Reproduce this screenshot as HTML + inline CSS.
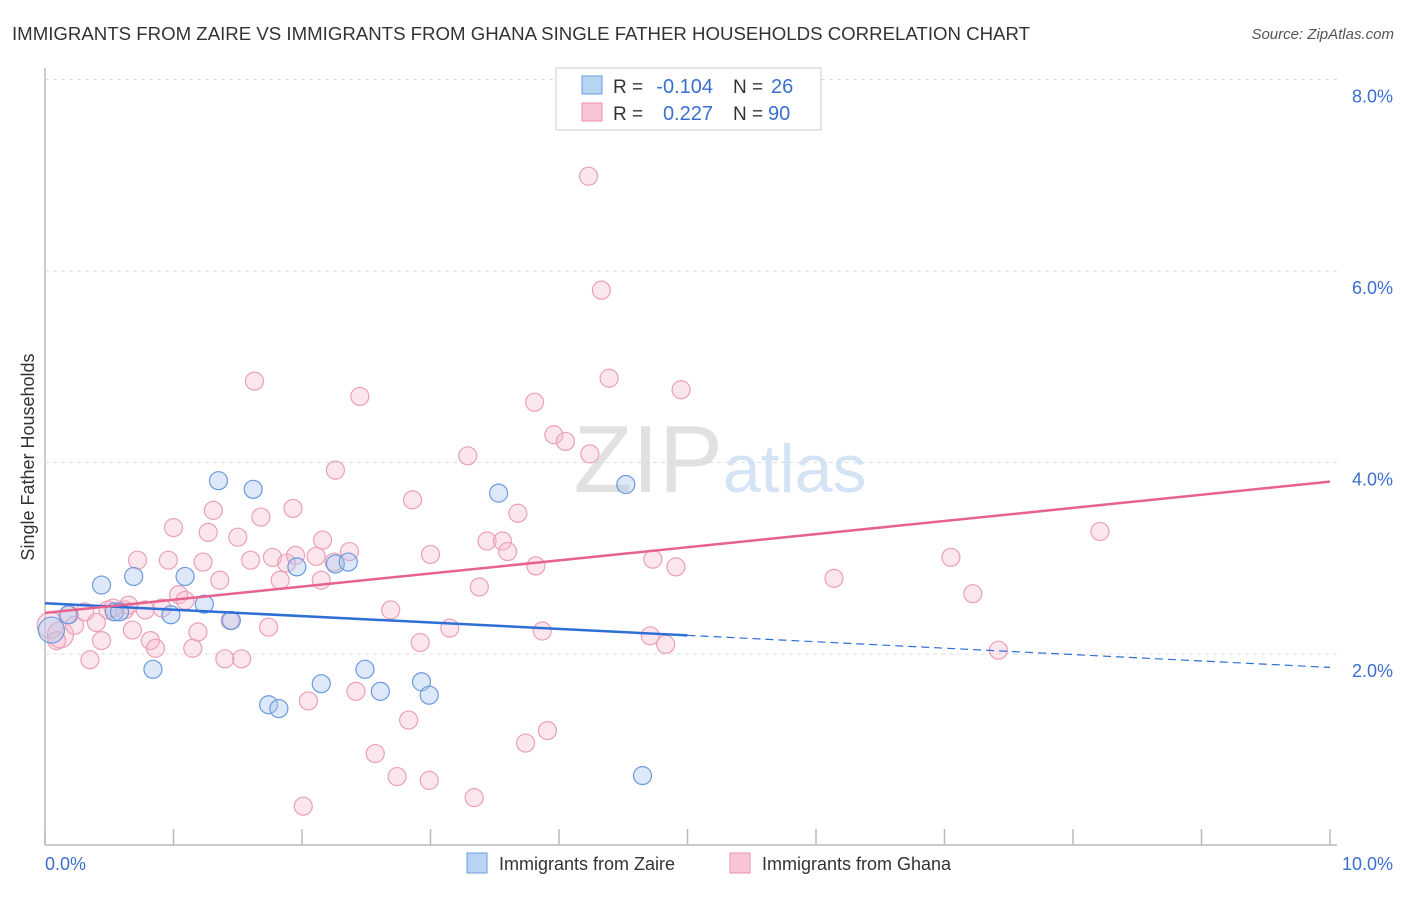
<!DOCTYPE html>
<html><head><meta charset="utf-8"><style>
body{margin:0;background:#fff;font-family:"Liberation Sans",sans-serif;}
svg text{font-family:"Liberation Sans",sans-serif;}
</style></head><body>
<svg id="chart" width="1406" height="892" xmlns="http://www.w3.org/2000/svg">
<text x="12" y="40" font-size="18" fill="#333" textLength="1018" lengthAdjust="spacingAndGlyphs">IMMIGRANTS FROM ZAIRE VS IMMIGRANTS FROM GHANA SINGLE FATHER HOUSEHOLDS CORRELATION CHART</text>
<text x="1394" y="39" font-size="15" fill="#555" font-style="italic" text-anchor="end">Source: ZipAtlas.com</text>
<text x="34" y="457" font-size="18" fill="#333" text-anchor="middle" transform="rotate(-90 34 457)">Single Father Households</text>
<g id="grid"></g>
<text x="720" y="492" font-size="96" fill="#d8d8d8" text-anchor="middle" font-family="Liberation Serif" opacity="0.75">ZIP<tspan fill="#c8dbf2" font-family="Liberation Sans" font-size="68">atlas</tspan></text>
<g id="pts"></g>
<g id="trend"></g>
<g>
<rect x="556" y="68" width="265" height="62" fill="#fff" stroke="#ccc"/>
<rect x="582" y="76" width="20" height="18" fill="#b8d4f5" stroke="#6c9be0"/>
<rect x="582" y="103" width="20" height="18" fill="#f9c5d4" stroke="#e993ad"/>
<text x="613" y="93" font-size="19" fill="#333">R =</text>
<text x="713" y="93" font-size="20" fill="#3a6fd0" text-anchor="end">-0.104</text>
<text x="733" y="93" font-size="19" fill="#333">N =</text>
<text x="771" y="93" font-size="20" fill="#3a6fd0">26</text>
<text x="613" y="120" font-size="19" fill="#333">R =</text>
<text x="713" y="120" font-size="20" fill="#3a6fd0" text-anchor="end">0.227</text>
<text x="733" y="120" font-size="19" fill="#333">N =</text>
<text x="768" y="120" font-size="20" fill="#3a6fd0">90</text>
</g>
<g>
<rect x="467" y="853" width="20" height="20" fill="#b8d4f5" stroke="#6c9be0"/>
<text x="499" y="870" font-size="18" fill="#333">Immigrants from Zaire</text>
<rect x="730" y="853" width="20" height="20" fill="#f9c5d4" stroke="#e993ad"/>
<text x="762" y="870" font-size="18" fill="#333">Immigrants from Ghana</text>
</g>
</svg>
<script>
const yTicks=[2,4,6,8];
const yTickLabels=["2.0%","4.0%","6.0%","8.0%"];
const xTickLabels=["0.0%","10.0%"];
const zaireX=[0.05,0.18,0.44,0.54,0.69,0.84,0.98,1.09,1.24,1.35,1.45,1.62,1.74,1.82,1.96,2.15,2.26,2.36,2.49,2.61,2.93,2.99,3.53,4.52,4.65,0.58];
const zaireY=[2.25,2.41,2.72,2.44,2.81,1.84,2.41,2.81,2.52,3.81,2.35,3.72,1.47,1.43,2.91,1.69,2.94,2.96,1.84,1.61,1.71,1.57,3.68,3.77,0.73,2.44];
const ghanaX=[0.04,0.12,0.19,0.23,0.35,0.40,0.44,0.49,0.53,0.62,0.65,0.68,0.72,0.78,0.82,0.86,0.91,0.96,1.0,1.04,1.09,1.15,1.19,1.23,1.27,1.31,1.36,1.40,1.44,1.50,1.53,1.60,1.63,1.68,1.74,1.77,1.83,1.88,1.93,1.95,2.05,2.11,2.15,2.16,2.25,2.26,2.37,2.42,2.45,2.57,2.69,2.74,2.83,2.86,2.92,2.99,3.00,3.15,3.29,3.34,3.38,3.44,3.56,3.60,3.68,3.74,3.81,3.82,3.87,3.91,3.96,4.05,4.23,4.24,4.33,4.39,4.71,4.73,4.83,4.91,4.95,6.14,7.05,7.22,7.42,8.21,2.01,0.31,0.09];
const ghanaY=[2.30,2.20,2.41,2.30,1.94,2.33,2.14,2.46,2.48,2.46,2.51,2.25,2.98,2.46,2.14,2.06,2.48,2.98,3.32,2.62,2.56,2.06,2.23,2.96,3.27,3.50,2.77,1.95,2.35,3.22,1.95,2.98,4.85,3.43,2.28,3.01,2.77,2.95,3.52,3.03,1.51,3.02,2.77,3.19,2.96,3.92,3.07,1.61,4.69,0.96,2.46,0.72,1.31,3.61,2.12,0.68,3.04,2.27,4.07,0.50,2.70,3.18,3.18,3.07,3.47,1.07,4.63,2.92,2.24,1.20,4.29,4.22,6.99,4.09,5.80,4.88,2.19,2.99,2.10,2.91,4.76,2.79,3.01,2.63,2.04,3.28,0.41,2.44,2.14];
const zaireTrend=[2.53,-0.067];
const ghanaTrend=[2.43,0.137];
const NS="http://www.w3.org/2000/svg";
const X=v=>45+v*128.5, Y=v=>845.5-v*95.75;
function mk(t,a,p){const e=document.createElementNS(NS,t);for(const k in a)e.setAttribute(k,a[k]);p.appendChild(e);return e;}
const g=document.getElementById('grid');
const ax=mk('line',{x1:45,y1:68,x2:45,y2:845,stroke:'#bbb','stroke-width':1.5},g);


const bx=mk('line',{x1:45,y1:845,x2:1337,y2:845,stroke:'#bbb','stroke-width':1.5},g);


yTicks.forEach((v,i)=>{
 const l=mk('line',{x1:45,x2:1337,y1:Y(v),y2:Y(v),stroke:'#ddd','stroke-dasharray':'4,4'},g);
 
 
 const t=mk('text',{x:1393,y:Y(v)+23,'font-size':18,fill:'#3a6fd0','text-anchor':'end'},g);
 t.textContent=yTickLabels[i];
 
 
});
for(let i=0;i<=10;i++){
 const l=mk('line',{x1:X(i),x2:X(i),y1:829,y2:845,stroke:'#bbb','stroke-width':1.5},g);
 
 
}
[[0,45,'start'],[1,1393,'end']].forEach(([i,x,a])=>{
 const t=mk('text',{x:x,y:870,'font-size':18,fill:'#3a6fd0','text-anchor':a},g);
 t.textContent=xTickLabels[i];
 
 
});
const p=document.getElementById('pts');
ghanaX.forEach((x,i)=>{
 const c=mk('circle',{cx:X(x),cy:Y(ghanaY[i]),r:i<2?13:9,fill:'#f7b8cb','fill-opacity':0.35,stroke:'#eba0b6','stroke-width':1.2},p);
 
 
});
zaireX.forEach((x,i)=>{
 const c=mk('circle',{cx:X(x),cy:Y(zaireY[i]),r:i<1?13:9,fill:'#a9c8f0','fill-opacity':0.4,stroke:'#6b9ade','stroke-width':1.2},p);
 
 
});
const tr=document.getElementById('trend');
const zl=mk('line',{x1:X(0),y1:Y(zaireTrend[0]),x2:X(5),y2:Y(zaireTrend[0]+5*zaireTrend[1]),stroke:'#2e6fd6','stroke-width':2.5},tr);


const zd=mk('line',{x1:X(5),y1:Y(zaireTrend[0]+5*zaireTrend[1]),x2:X(10),y2:Y(zaireTrend[0]+10*zaireTrend[1]),stroke:'#2e6fd6','stroke-width':1.2,'stroke-dasharray':'8,5'},tr);


const gl=mk('line',{x1:X(0),y1:Y(ghanaTrend[0]),x2:X(10),y2:Y(ghanaTrend[0]+10*ghanaTrend[1]),stroke:'#e8628e','stroke-width':2.5},tr);


</script>
</body></html>
